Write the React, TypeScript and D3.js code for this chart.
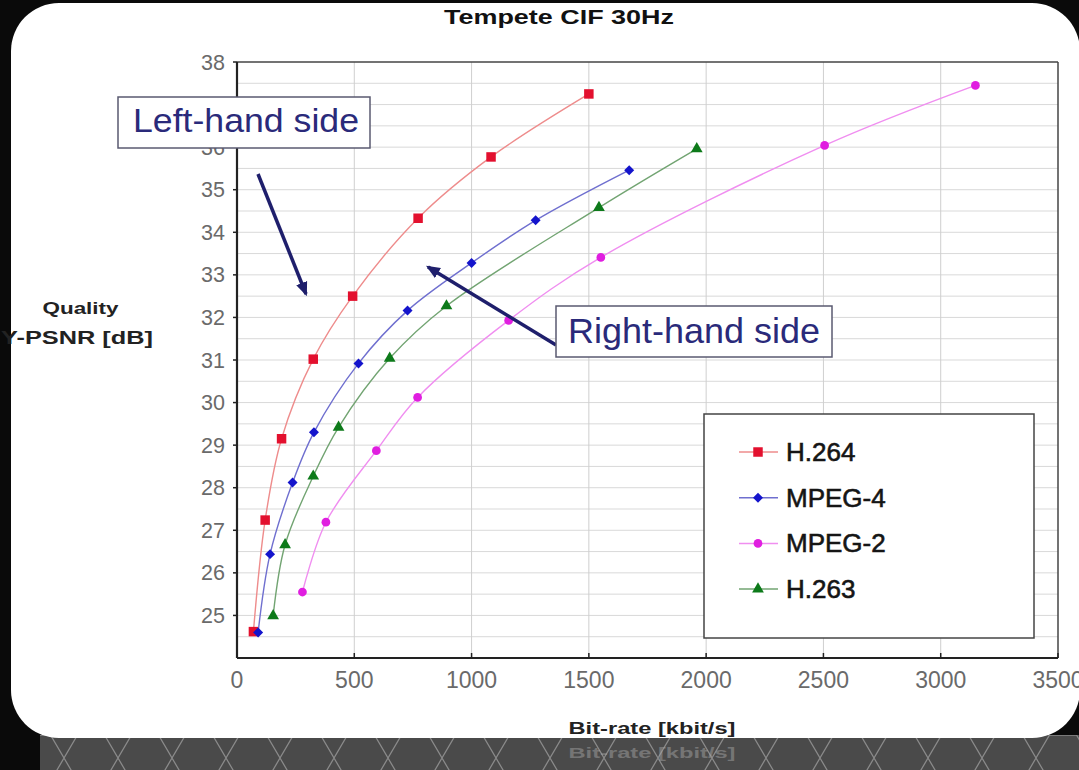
import React from 'react';
import * as d3 from 'd3';

const chartTitle = 'Tempete CIF 30Hz';
const xLabel = 'Bit-rate [kbit/s]';
const yLabel1 = 'Quality';
const yLabel2 = 'Y-PSNR [dB]';
const xTicks = [0, 500, 1000, 1500, 2000, 2500, 3000, 3500];
const yTicks = [25, 26, 27, 28, 29, 30, 31, 32, 33, 34, 35, 36, 37, 38];
const seriesNames = ['H.264', 'MPEG-4', 'MPEG-2', 'H.263'];

const h264Rate = [70, 120, 190, 325, 493, 772, 1083, 1500];
const h264Psnr = [24.62, 27.24, 29.15, 31.02, 32.5, 34.33, 35.77, 37.25];
const mpeg4Rate = [90, 141, 237, 328, 518, 727, 1000, 1273, 1672];
const mpeg4Psnr = [24.6, 26.44, 28.12, 29.3, 30.92, 32.16, 33.28, 34.28, 35.46];
const mpeg2Rate = [279, 379, 594, 770, 1158, 1551, 2505, 3148];
const mpeg2Psnr = [25.55, 27.19, 28.87, 30.12, 31.93, 33.41, 36.04, 37.45];
const h263Rate = [154, 205, 325, 433, 651, 893, 1543, 1960];
const h263Psnr = [24.99, 26.66, 28.27, 29.42, 31.04, 32.27, 34.58, 35.96];

const annotations = ['Left-hand side', 'Right-hand side'];

const rates = [h264Rate, mpeg4Rate, mpeg2Rate, h263Rate];
const psnrs = [h264Psnr, mpeg4Psnr, mpeg2Psnr, h263Psnr];
const markerColors = ['#e3102e', '#1414cc', '#e01ee0', '#0d7a1a'];
const lineColors = ['#ee8c8c', '#6f6fcf', '#f08ef0', '#72a472'];
const symbols = [d3.symbolSquare, d3.symbolSquare, d3.symbolCircle, d3.symbolTriangle];
const symbolSizes = [90, 50, 60, 60];
const symbolRot = [0, 45, 0, 0];

export default function App() {
  const W = 1079, H = 770;
  const x = d3.scaleLinear().domain([0, 3500]).range([237, 1058]);
  const y = d3.scaleLinear().domain([24, 38]).range([658, 62]);
  const line = d3.line<[number, number]>()
    .x(d => x(d[0]))
    .y(d => y(d[1]))
    .curve(d3.curveCatmullRom.alpha(0.5));
  const halfGrid = d3.range(24.5, 38, 0.5);
  const font = 'Liberation Sans, Arial, sans-serif';
  const navy = '#1f1f6c';

  const sym = (i: number) => d3.symbol().type(symbols[i]).size(symbolSizes[i])() as string;

  return (
    <svg width={W} height={H} style={{ position: 'absolute', left: 0, top: 0 }} fontFamily={font}>
      <defs>
        <pattern id="hex" width="54" height="46" patternUnits="userSpaceOnUse" x="10" y="735">
          <rect width="54" height="46" fill="#4a4a4a" />
          <path d="M13.5,0 L40.5,0 L54,23 L40.5,46 L13.5,46 L0,23 Z" fill="none" stroke="#8a8a8a" strokeWidth="1.3" />
        </pattern>
        <marker id="arrow" viewBox="0 0 12 10" refX="10" refY="5" markerWidth="4" markerHeight="3.6" orient="auto">
          <path d="M0,0 L12,5 L0,10 Z" fill={navy} />
        </marker>
      </defs>
      <rect x={0} y={0} width={W} height={H} fill="#0a0a0a" />
      <rect x={40} y={735} width={W} height={40} fill="url(#hex)" />
      <rect x={11} y={3} width={1069} height={735} rx={48} ry={48} fill="#ffffff" />

      <text x={559} y={24} textAnchor="middle" fontWeight="bold" fontSize={20} fill="#111"
        textLength={230} lengthAdjust="spacingAndGlyphs">{chartTitle}</text>

      {/* grid */}
      {halfGrid.map(v => (
        <line key={'h' + v} x1={x(0)} x2={x(3500)} y1={y(v)} y2={y(v)} stroke="#d9d9d9" strokeWidth={1} />
      ))}
      {xTicks.slice(1, -1).map(v => (
        <line key={'v' + v} x1={x(v)} x2={x(v)} y1={y(24)} y2={y(38)} stroke="#cfcfcf" strokeWidth={1} />
      ))}
      {/* frame */}
      <line x1={x(0)} x2={x(3500)} y1={y(38)} y2={y(38)} stroke="#444" strokeWidth={1.5} />
      <line x1={x(3500)} x2={x(3500)} y1={y(38)} y2={y(24)} stroke="#444" strokeWidth={1.5} />
      <line x1={x(0)} x2={x(0)} y1={y(38)} y2={y(24)} stroke="#222" strokeWidth={2.2} />
      <line x1={x(0)} x2={x(3500)} y1={y(24)} y2={y(24)} stroke="#222" strokeWidth={2.2} />

      {/* ticks */}
      {yTicks.map(v => (
        <g key={'yt' + v}>
          <line x1={x(0) - 4} x2={x(0)} y1={y(v)} y2={y(v)} stroke="#222" strokeWidth={1.5} />
          <text x={225} y={y(v) + 7.5} textAnchor="end" fontSize={21.5} fill="#6a6a6a">{v}</text>
        </g>
      ))}
      {xTicks.map(v => (
        <g key={'xt' + v}>
          <line x1={x(v)} x2={x(v)} y1={y(24)} y2={y(24) - 5} stroke="#222" strokeWidth={1.5} />
          <text x={x(v)} y={688} textAnchor="middle" fontSize={23} fill="#6a6a6a">{v}</text>
        </g>
      ))}

      <text x={80.5} y={314} textAnchor="middle" fontWeight="bold" fontSize={17} fill="#222"
        textLength={76} lengthAdjust="spacingAndGlyphs">{yLabel1}</text>
      <text x={77} y={344} textAnchor="middle" fontWeight="bold" fontSize={17.5} fill="#222"
        textLength={152} lengthAdjust="spacingAndGlyphs">{yLabel2}</text>
      <text x={652} y={734} textAnchor="middle" fontWeight="bold" fontSize={17} fill="#222"
        textLength={167} lengthAdjust="spacingAndGlyphs">{xLabel}</text>
      <text x={652} y={758} textAnchor="middle" fontWeight="bold" fontSize={15} fill="#aaa" opacity={0.45}
        textLength={167} lengthAdjust="spacingAndGlyphs">{xLabel}</text>

      {/* series */}
      {rates.map((r, i) => {
        const pts = r.map((v, j) => [v, psnrs[i][j]] as [number, number]);
        return (
          <g key={'s' + i}>
            <path d={line(pts) as string} fill="none" stroke={lineColors[i]} strokeWidth={1.4} />
            {pts.map((p, j) => (
              <path key={j} d={sym(i)} transform={`translate(${x(p[0])},${y(p[1])}) rotate(${symbolRot[i]})`} fill={markerColors[i]} />
            ))}
          </g>
        );
      })}

      {/* legend */}
      <rect x={704} y={414} width={330} height={224} fill="#fff" stroke="#444" strokeWidth={1.5} />
      {seriesNames.map((n, i) => {
        const ly = 452 + i * 45.7;
        return (
          <g key={'l' + i}>
            <line x1={739} x2={778} y1={ly} y2={ly} stroke={lineColors[i]} strokeWidth={1.5} />
            <path d={sym(i)} transform={`translate(758,${ly}) rotate(${symbolRot[i]})`} fill={markerColors[i]} />
            <text x={786} y={ly + 9} fontSize={26} fill="#151515" stroke="#151515" strokeWidth={0.6}>{n}</text>
          </g>
        );
      })}

      {/* annotations */}
      <rect x={118} y={97} width={252} height={51} fill="#fff" stroke="#5a5a70" strokeWidth={1.5} />
      <text x={133} y={132} fontSize={34} fill="#2a2a7a" textLength={226} lengthAdjust="spacingAndGlyphs">{annotations[0]}</text>
      <line x1={258} y1={174} x2={306} y2={294} stroke={navy} strokeWidth={3.5} markerEnd="url(#arrow)" />

      <line x1={556} y1={345} x2={428} y2={267} stroke={navy} strokeWidth={3.5} markerEnd="url(#arrow)" />
      <rect x={556} y={306} width={276} height={51} fill="#fff" stroke="#5a5a70" strokeWidth={1.5} />
      <text x={568} y={343} fontSize={35} fill="#2a2a7a" textLength={252} lengthAdjust="spacingAndGlyphs">{annotations[1]}</text>
    </svg>
  );
}
